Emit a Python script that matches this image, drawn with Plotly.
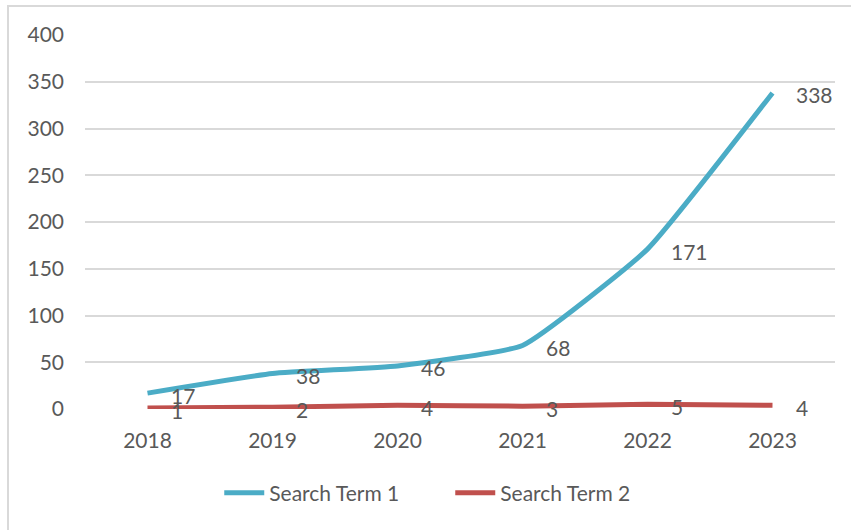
import plotly.graph_objects as go

years = ["2018", "2019", "2020", "2021", "2022", "2023"]
term1 = [17, 38, 46, 68, 171, 338]
term2 = [1, 2, 4, 3, 5, 4]
series_names = ["Search Term 1", "Search Term 2"]
series_colors = ["#4BACC6", "#C0504D"]
y_ticks = [0, 50, 100, 150, 200, 250, 300, 350, 400]

FONT = "Lato"
TXT = "#595959"
FS = 21

fig = go.Figure()
for name, vals, col in zip(series_names, [term1, term2], series_colors):
    fig.add_trace(go.Scatter(
        x=years, y=vals, name=name, mode="lines",
        line=dict(color=col, width=5, shape="spline", smoothing=0.4),
    ))
    for i, yv in enumerate(vals):
        # category axes take the category index for annotation positions
        fig.add_annotation(x=i, y=yv, xref="x", yref="y", text=str(yv), showarrow=False,
                           xanchor="left", yanchor="middle", xshift=21, yshift=-2,
                           font=dict(family=FONT, size=FS, color=TXT))

fig.update_layout(
    width=851, height=530,
    margin=dict(l=85, r=16, t=35, b=121),
    paper_bgcolor="white", plot_bgcolor="white",
    font=dict(family=FONT, size=FS, color=TXT),
    showlegend=True,
    legend=dict(orientation="h", x=0.487, xanchor="center", y=-0.225, yanchor="middle",
                font=dict(family=FONT, size=FS, color=TXT), itemwidth=40,
                entrywidth=176, tracegroupgap=0),
    xaxis=dict(type="category", showgrid=False, zeroline=False, showline=False,
               ticks="", ticklabelstandoff=17, range=[-0.5, 5.5],
               tickfont=dict(family=FONT, size=FS, color=TXT)),
    yaxis=dict(range=[0, 400], tickvals=y_ticks, showgrid=True, gridcolor="#D9D9D9",
               gridwidth=1.5, zeroline=False, showline=False, ticks="",
               ticklabelstandoff=20,
               tickfont=dict(family=FONT, size=FS, color=TXT)),
)
fig.add_shape(type="rect", xref="paper", yref="paper",
              x0=(8 - 85) / 750, x1=1.05, y0=-0.4, y1=(409 - 6) / 374,
              line=dict(color="#D9D9D9", width=2), fillcolor="rgba(0,0,0,0)", layer="below")

fig.write_html("out.html", config={"displayModeBar": False},
               post_script="document.body.style.margin='0';document.body.style.overflow='hidden';")
